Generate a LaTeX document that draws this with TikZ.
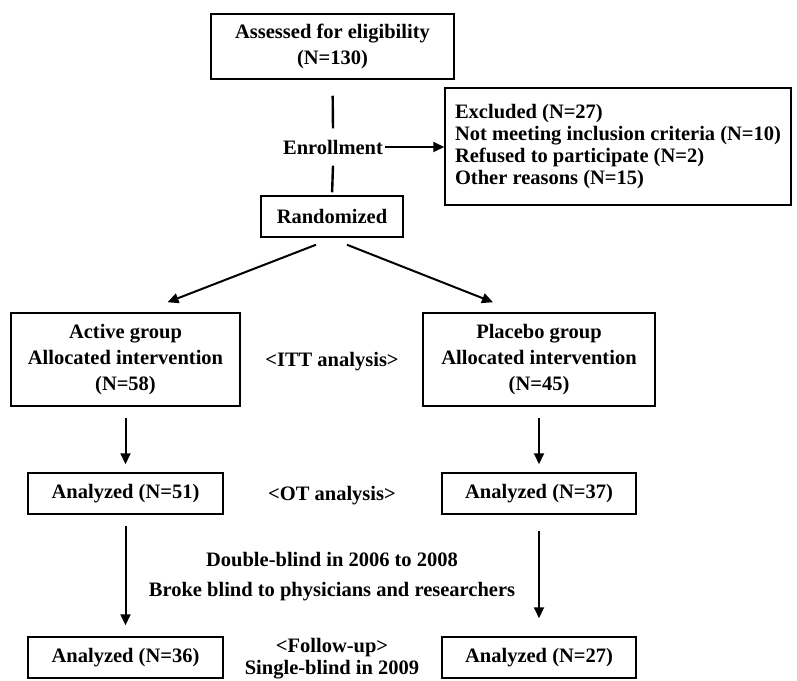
\documentclass[tikz,border=0pt]{standalone}
\usepackage{fontspec}
\setmainfont{Liberation Serif}
\usetikzlibrary{arrows.meta}
\begin{document}
\begin{tikzpicture}[x=1pt,y=-1pt,
  every node/.style={font=\bfseries\fontsize{20.5}{26}\selectfont},
  box/.style={draw, line width=1.5pt, inner sep=0pt, align=center},
  lbl/.style={inner sep=0pt, align=center},
  arr/.style={line width=2pt, -{Triangle[length=11pt,width=10pt]}},
  ln/.style={line width=2.4pt}]
\useasboundingbox (0,0) rectangle (797,680);
\node[box, minimum width=243pt, minimum height=65pt] (top) at (332.5,46.5) {Assessed for eligibility\\(N=130)};
\node[lbl, minimum height=37pt] (enroll) at (333,147) {Enrollment};
\node[box, minimum width=346pt, minimum height=117pt, align=left, font=\bfseries\fontsize{20.5}{22}\selectfont] (excl) at (618,146.5)
  {Excluded (N=27)\\Not meeting inclusion criteria (N=10)\\Refused to participate (N=2)\\Other reasons (N=15)};
\node[box, minimum width=142pt, minimum height=41pt] (rand) at (332,216.5) {Randomized};
\node[box, minimum width=229pt, minimum height=93pt] (active) at (125.5,359.5) {Active group\\Allocated intervention\\(N=58)};
\node[box, minimum width=232pt, minimum height=93pt] (placebo) at (539,359.5) {Placebo group\\Allocated intervention\\(N=45)};
\node[lbl] (itt) at (332,362) {<ITT analysis>};
\node[box, minimum width=195pt, minimum height=41pt] (an51) at (125.5,493.5) {Analyzed (N=51)};
\node[box, minimum width=194pt, minimum height=41pt] (an37) at (539,493.5) {Analyzed (N=37)};
\node[lbl] (ot) at (332,496) {<OT analysis>};
\node[lbl, font=\bfseries\fontsize{20.5}{30}\selectfont] (dbl) at (332,577) {Double-blind in 2006 to 2008\\Broke blind to physicians and researchers};
\node[box, minimum width=195pt, minimum height=41pt] (an36) at (125.5,657.5) {Analyzed (N=36)};
\node[box, minimum width=194pt, minimum height=41pt] (an27) at (539,657.5) {Analyzed (N=27)};
\node[lbl, font=\bfseries\fontsize{20.5}{22}\selectfont] (fu) at (332,659) {<Follow-up>\\Single-blind in 2009};
% connectors
\draw[ln, shorten <=16pt] (top.south) -- (enroll.north);
\draw[ln, shorten >=3pt] (enroll.south) -- (rand.north);
\draw[arr, shorten <=2pt] (enroll.east) -- (enroll.east -| excl.west);
\draw[arr] ([xshift=-16pt,yshift=-7pt]rand.south) -- ([xshift=42pt,yshift=10pt]active.north);
\draw[arr] ([xshift=15pt,yshift=-7pt]rand.south) -- ([xshift=-46pt,yshift=10pt]placebo.north);
\draw[arr, shorten <=11pt, shorten >=8pt] (active.south) -- (an51.north);
\draw[arr, shorten <=11pt, shorten >=8pt] (placebo.south) -- (an37.north);
\draw[arr, shorten <=11pt, shorten >=11pt] (an51.south) -- (an36.north);
\draw[arr, shorten <=16pt, shorten >=18pt] (an37.south) -- (an27.north);
\end{tikzpicture}
\end{document}
